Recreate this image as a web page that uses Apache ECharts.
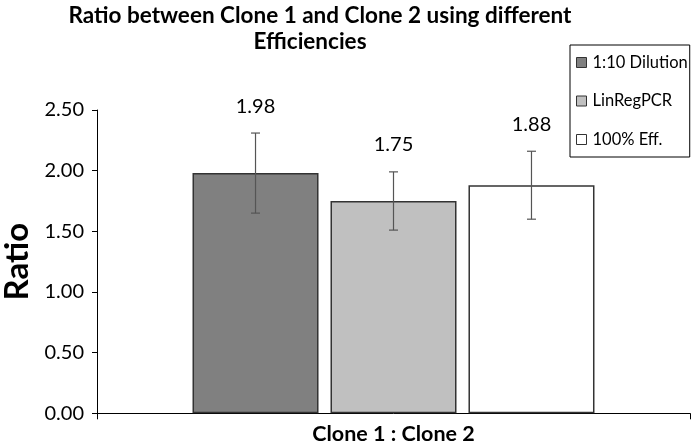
<!DOCTYPE html>
<html><head><meta charset="utf-8">
<script src="https://cdn.jsdelivr.net/npm/echarts@6/dist/echarts.min.js"></script>
<style>html,body{margin:0;padding:0;background:#fff}#c{width:699px;height:445px}</style>
</head><body><div id="c"></div>
<script>
const categories = ['Clone 1 : Clone 2'];
const seriesNames = ['1:10 Dilution', 'LinRegPCR', '100% Eff.'];
const ratios = [1.98, 1.75, 1.88];
const errors = [0.33, 0.24, 0.28];
const colors = ['#808080', '#c0c0c0', '#ffffff'];
const titleLines = ['Ratio between Clone 1 and Clone 2 using different', 'Efficiencies'];

const FONT = 'Lato, "Open Sans", sans-serif';
const BAR_W = 0.2125, BAR_GAP = 0.095;

const chart = echarts.init(document.getElementById('c'));
const series = [];
seriesNames.forEach((name, i) => {
  series.push({
    type: 'bar', name: name, data: [ratios[i]],
    barWidth: (BAR_W * 100) + '%', barGap: (BAR_GAP * 100) + '%',
    itemStyle: { color: colors[i], borderColor: '#333', borderWidth: 1.5 },
    z: 2
  });
});
seriesNames.forEach((name, i) => {
  series.push({
    type: 'custom', name: name + ' err',
    data: [[0, ratios[i] - errors[i], ratios[i] + errors[i], ratios[i]]],
    encode: { x: 0, y: [1, 2] },
    z: 5,
    renderItem: function (params, api) {
      const band = api.size([1, 0])[0];
      const bw = band * BAR_W;
      const step = bw * (1 + BAR_GAP);
      const c = api.coord([api.value(0), api.value(3)]);
      const x = c[0] + (i - 1) * step;
      const lo = api.coord([api.value(0), api.value(1)])[1];
      const hi = api.coord([api.value(0), api.value(2)])[1];
      const cap = 4.5;
      const ls = { stroke: '#555', lineWidth: 1.2 };
      return {
        type: 'group', children: [
          { type: 'line', shape: { x1: x, y1: lo, x2: x, y2: hi }, style: ls },
          { type: 'line', shape: { x1: x - cap, y1: lo, x2: x + cap, y2: lo }, style: ls },
          { type: 'line', shape: { x1: x - cap, y1: hi, x2: x + cap, y2: hi }, style: ls },
          { type: 'text', x: x, y: hi - 27, style: { text: api.value(3).toFixed(2), align: 'center', verticalAlign: 'middle', textAlign: 'center', textVerticalAlign: 'middle', font: '20px ' + FONT, fill: '#000' } }
        ]
      };
    }
  });
});

chart.setOption({
  animation: false,
  textStyle: { fontFamily: FONT },
  title: [
    { text: titleLines[0], left: 315, top: -1, textAlign: 'center', textStyle: { fontFamily: FONT, fontWeight: 'bold', fontSize: 22.5, color: '#000' } },
    { text: titleLines[1], left: 305, top: 25, textAlign: 'center', textStyle: { fontFamily: FONT, fontWeight: 'bold', fontSize: 22.5, color: '#000' } }
  ],
  legend: {
    data: seriesNames, orient: 'vertical', left: 570, top: 45,
    padding: [9, 2, 9, 6], itemGap: 21.5, itemWidth: 10, itemHeight: 10,
    borderColor: '#000', borderWidth: 1, backgroundColor: '#fff',
    icon: 'rect',
    itemStyle: { borderColor: '#333', borderWidth: 1 },
    textStyle: { fontFamily: FONT, fontSize: 16.5, color: '#000', lineHeight: 16, padding: [0, 0, 0, 1] }
  },
  grid: { left: 97, right: 9, top: 110, bottom: 31.7, containLabel: false, outerBoundsMode: 'none' },
  xAxis: {
    type: 'category', data: categories,
    axisLine: { lineStyle: { color: '#000', width: 1 } },
    axisTick: { show: true, length: 6, lineStyle: { color: '#000' } },
    axisLabel: { fontFamily: FONT, fontWeight: 'bold', fontSize: 21.5, color: '#000', margin: 10 }
  },
  yAxis: {
    type: 'value', min: 0, max: 2.5, interval: 0.5,
    name: 'Ratio', nameLocation: 'middle', nameRotate: 90, nameGap: 63,
    nameTextStyle: { fontFamily: FONT, fontWeight: 'bold', fontSize: 33, color: '#000' },
    axisLine: { show: true, lineStyle: { color: '#000', width: 1 } },
    axisTick: { show: true, length: 5, lineStyle: { color: '#000' } },
    splitLine: { show: false },
    axisLabel: { fontFamily: FONT, fontSize: 20, color: '#000', margin: 13, formatter: v => v.toFixed(2) }
  },
  series: series
});
</script></body></html>
